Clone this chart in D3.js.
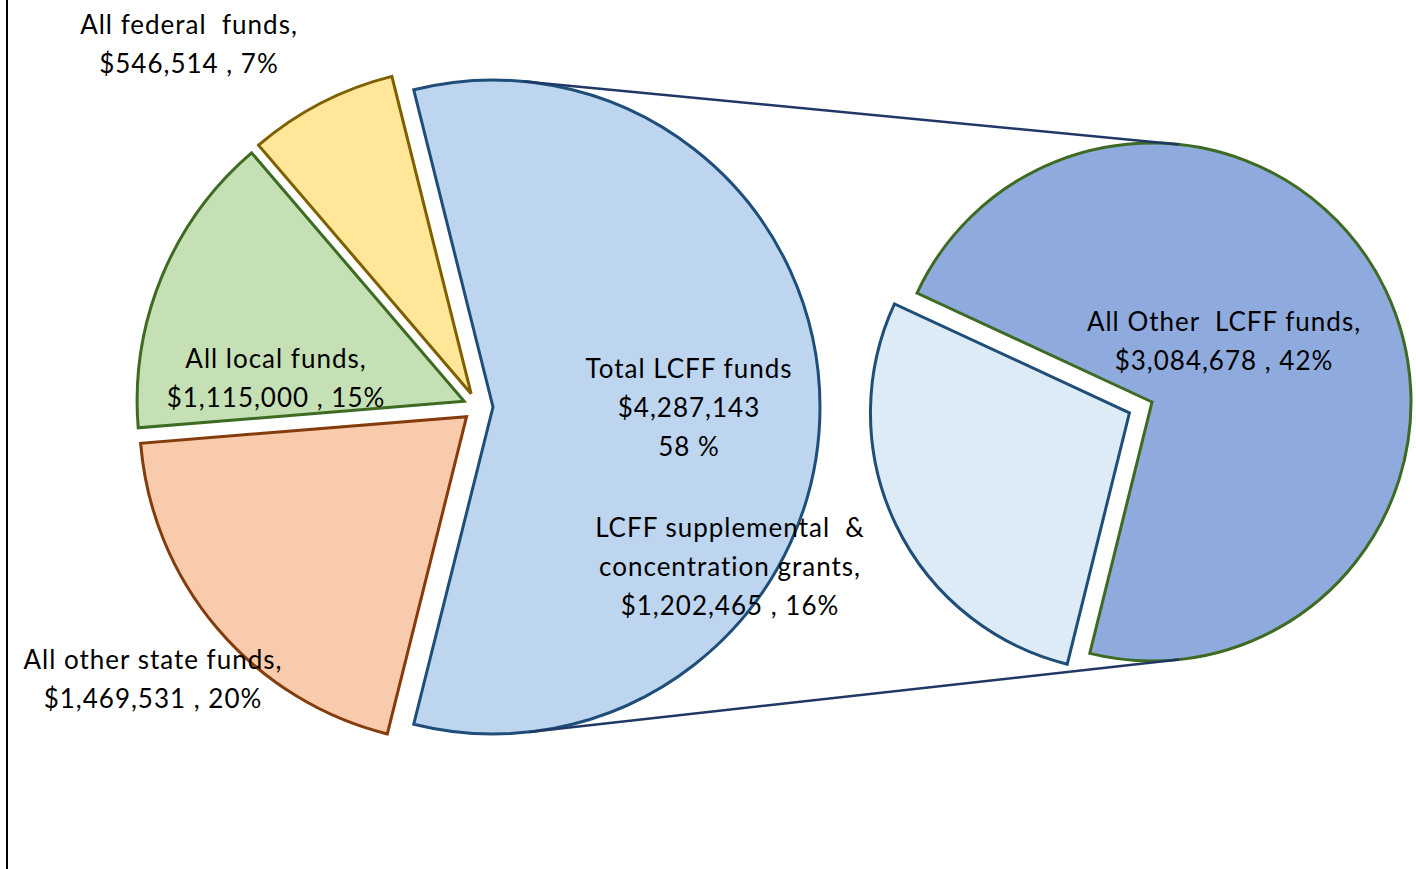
<!DOCTYPE html>
<html>
<head>
<meta charset="utf-8">
<script src="https://cdn.jsdelivr.net/npm/d3@7"></script>
<style>
  body { margin: 0; background: #fff; }
  svg { display: block; }
  text { font-family: Lato, "Open Sans", sans-serif; font-size: 26px; letter-spacing: 1px; fill: #000; white-space: pre; }
</style>
</head>
<body>
<div id="chart"></div>
<script>
// Main pie data (clockwise from the right-hand LCFF slice)
const categories = ["Total LCFF funds", "All other state funds", "All local funds", "All federal funds"];
const values = [4287143, 1469531, 1115000, 546514];
const percents = ["58 %", "20%", "15%", "7%"];

// Second pie: breakdown of LCFF
const subCategories = ["LCFF supplemental & concentration grants", "All Other LCFF funds"];
const subValues = [1202465, 3084678];
const subPercents = ["16%", "42%"];

const width = 1416, height = 869;
const fmt = d3.format("$,d");

const svg = d3.select("#chart").append("svg")
    .attr("width", width)
    .attr("height", height);

// left frame edge
svg.append("line")
    .attr("x1", 7).attr("x2", 7).attr("y1", 0).attr("y2", height)
    .attr("stroke", "#000").attr("stroke-width", 2);

// ---- main pie ----
const c1 = { x: 478, y: 407 }, r1 = 327, explode1 = 15;
const fills = ["#BDD5EE", "#F8CBAD", "#C5E0B4", "#FFE699"];
const strokes = ["#1F4E79", "#843C0C", "#3E6B23", "#7F6000"];

const total = d3.sum(values);
const lcffSpan = values[0] / total * 2 * Math.PI;
const start1 = Math.PI / 2 - lcffSpan / 2;

const pie1 = d3.pie().sort(null).value(d => d)
    .startAngle(start1).endAngle(start1 + 2 * Math.PI);
const arc1 = d3.arc().innerRadius(0).outerRadius(r1);
const slices1 = pie1(values);

const g1 = svg.append("g").attr("transform", `translate(${c1.x},${c1.y})`);
g1.selectAll("path")
  .data(slices1)
  .join("path")
    .attr("transform", d => {
      const a = (d.startAngle + d.endAngle) / 2;
      return `translate(${Math.sin(a) * explode1},${-Math.cos(a) * explode1})`;
    })
    .attr("d", arc1)
    .attr("fill", (d, i) => fills[i])
    .attr("stroke", (d, i) => strokes[i])
    .attr("stroke-width", 3)
    .attr("stroke-linejoin", "miter");

// ---- second pie ----
const c2 = { x: 1152, y: 402 }, r2 = 259, explode2 = 25;
const fills2 = ["#DDEBF7", "#8FAADC"];
const strokes2 = ["#1F4E79", "#3E6B23"];
const start2 = 193.9 * Math.PI / 180;

const pie2 = d3.pie().sort(null).value(d => d)
    .startAngle(start2).endAngle(start2 + 2 * Math.PI);
const arc2 = d3.arc().innerRadius(0).outerRadius(r2);
const slices2 = pie2(subValues);

const g2 = svg.append("g").attr("transform", `translate(${c2.x},${c2.y})`);
g2.selectAll("path")
  .data(slices2)
  .join("path")
    .attr("transform", (d, i) => {
      if (i !== 0) return null;
      const a = (d.startAngle + d.endAngle) / 2;
      return `translate(${Math.sin(a) * explode2},${-Math.cos(a) * explode2})`;
    })
    .attr("d", arc2)
    .attr("fill", (d, i) => fills2[i])
    .attr("stroke", (d, i) => strokes2[i])
    .attr("stroke-width", 3)
    .attr("stroke-linejoin", "miter");

// ---- connector lines: from the top/bottom of pie 2, tangent to LCFF slice ----
const lcffC = { x: c1.x + explode1, y: c1.y };
function tangentPoint(p, c, r, upper) {
  const dx = p.x - c.x, dy = p.y - c.y;
  const dist = Math.hypot(dx, dy);
  const base = Math.atan2(-dy, dx);          // math angle, y up
  const off = Math.acos(r / dist);
  const a = upper ? base + off : base - off;
  return { x: c.x + r * Math.cos(a), y: c.y - r * Math.sin(a) };
}
const endAngle2 = 84 * Math.PI / 180;
const ends = [
  { x: c2.x + r2 * Math.cos(endAngle2), y: c2.y - r2 * Math.sin(endAngle2), upper: true },
  { x: c2.x + r2 * Math.cos(endAngle2), y: c2.y + r2 * Math.sin(endAngle2), upper: false }
];
svg.selectAll("line.connector")
  .data(ends)
  .join("line")
    .attr("class", "connector")
    .attr("x1", d => tangentPoint(d, lcffC, r1, d.upper).x)
    .attr("y1", d => tangentPoint(d, lcffC, r1, d.upper).y)
    .attr("x2", d => d.x)
    .attr("y2", d => d.y)
    .attr("stroke", "#1F3864")
    .attr("stroke-width", 2.5);

// ---- labels ----
const labels = [
  { lines: ["All federal  funds,", `${fmt(values[3])} , ${percents[3]}`], x: 189, y: 25 },
  { lines: ["All local funds,", `${fmt(values[2])} , ${percents[2]}`], x: 276, y: 359 },
  { lines: ["All other state funds,", `${fmt(values[1])} , ${percents[1]}`], x: 153, y: 660 },
  { lines: [categories[0], fmt(values[0]), percents[0]], x: 689, y: 369 },
  { lines: ["LCFF supplemental  &", "concentration grants,", `${fmt(subValues[0])} , ${subPercents[0]}`], x: 730, y: 528 },
  { lines: ["All Other  LCFF funds,", `${fmt(subValues[1])} , ${subPercents[1]}`], x: 1224, y: 322 }
];

const lg = svg.append("g");
labels.forEach(l => {
  const t = lg.append("text")
      .attr("text-anchor", "middle")
      .attr("x", l.x)
      .attr("y", l.y);
  l.lines.forEach((s, i) => {
    t.append("tspan")
      .attr("x", l.x)
      .attr("y", l.y + i * 39)
      .attr("dy", "0.35em")
      .text(s);
  });
});
</script>
</body>
</html>
